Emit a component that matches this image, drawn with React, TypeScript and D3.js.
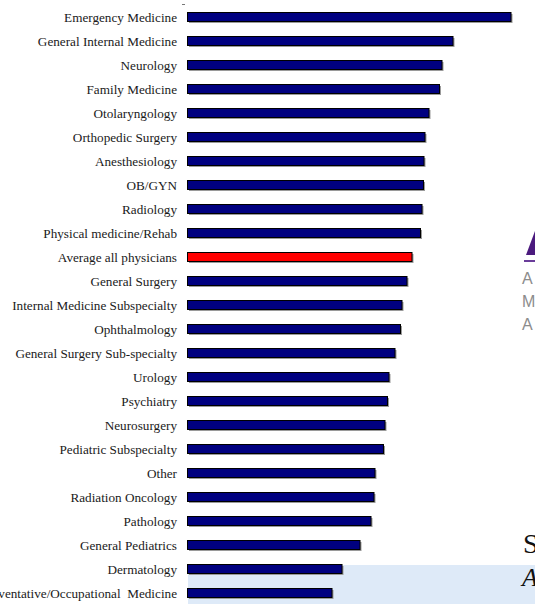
import React from "react";
import * as d3 from "d3";

const categories = [
  "Emergency Medicine",
  "General Internal Medicine",
  "Neurology",
  "Family Medicine",
  "Otolaryngology",
  "Orthopedic Surgery",
  "Anesthesiology",
  "OB/GYN",
  "Radiology",
  "Physical medicine/Rehab",
  "Average all physicians",
  "General Surgery",
  "Internal Medicine Subspecialty",
  "Ophthalmology",
  "General Surgery Sub-specialty",
  "Urology",
  "Psychiatry",
  "Neurosurgery",
  "Pediatric Subspecialty",
  "Other",
  "Radiation Oncology",
  "Pathology",
  "General Pediatrics",
  "Dermatology",
  "Preventative/Occupational  Medicine",
];

const values = [
  64.7, 53.1, 50.9, 50.4, 48.3, 47.5, 47.3, 47.2, 46.9, 46.6, 44.9, 43.9, 42.9,
  42.6, 41.5, 40.3, 40.0, 39.5, 39.2, 37.5, 37.3, 36.7, 34.5, 30.9, 28.9,
];

const highlight = "Average all physicians";

const logoLetters = ["A", "M", "A"];
const cornerTexts = ["S", "A"];

export default function App() {
  const W = 535;
  const H = 604;
  const x = d3.scaleLinear().domain([0, 70]).range([187.5, 537.5]);
  const y = d3.scalePoint<string>().domain(categories).range([17, 593]);
  const barH = 9;

  return (
    <svg
      width={W}
      height={H}
      style={{ position: "absolute", left: 0, top: 0, background: "#fff" }}
    >
      {/* light blue band at bottom */}
      <rect x={188} y={565} width={W - 188} height={H - 565} fill="#deeaf8" />

      {/* small tick at top of axis */}
      <line x1={182} x2={185} y1={4.5} y2={4.5} stroke="#777" strokeWidth={1} />

      {categories.map((c, i) => {
        const cy = y(c)!;
        const x0 = x(0);
        const w = x(values[i]) - x0;
        const fill = c === highlight ? "#ff0000" : "#000080";
        return (
          <g key={c}>
            <rect
              x={x0 + 1.5}
              y={cy - barH / 2 + 1.5}
              width={w}
              height={barH}
              fill="#9a9a9a"
            />
            <rect
              x={x0}
              y={cy - barH / 2}
              width={w}
              height={barH}
              fill={fill}
              stroke="#000"
              strokeWidth={1}
            />
            <text
              x={177}
              y={cy}
              dy="0.35em"
              textAnchor="end"
              fontFamily="'Liberation Serif', 'Times New Roman', serif"
              fontSize={13.2}
              fill="#1a1a1a"
              style={{ whiteSpace: "pre" }}
            >
              {c}
            </text>
          </g>
        );
      })}

      {/* partial logo on right */}
      <path d="M526,255 L535,231 L535,255 Z" fill="#4b1a7e" />
      <line x1={524} x2={535} y1={261} y2={261} stroke="#6a3d9a" strokeWidth={2} />
      {logoLetters.map((l, i) => (
        <text
          key={i}
          x={522}
          y={284 + i * 23}
          fontFamily="'Liberation Sans', Arial, sans-serif"
          fontSize={16}
          fill="#8c8c8c"
        >
          {l}
        </text>
      ))}

      {/* cropped text bottom right */}
      <text
        x={523}
        y={553}
        fontFamily="'Liberation Serif', 'Times New Roman', serif"
        fontSize={28}
        fill="#111"
      >
        {cornerTexts[0]}
      </text>
      <text
        x={522}
        y={586}
        fontFamily="'Liberation Serif', 'Times New Roman', serif"
        fontStyle="italic"
        fontSize={26}
        fill="#111"
      >
        {cornerTexts[1]}
      </text>
    </svg>
  );
}
